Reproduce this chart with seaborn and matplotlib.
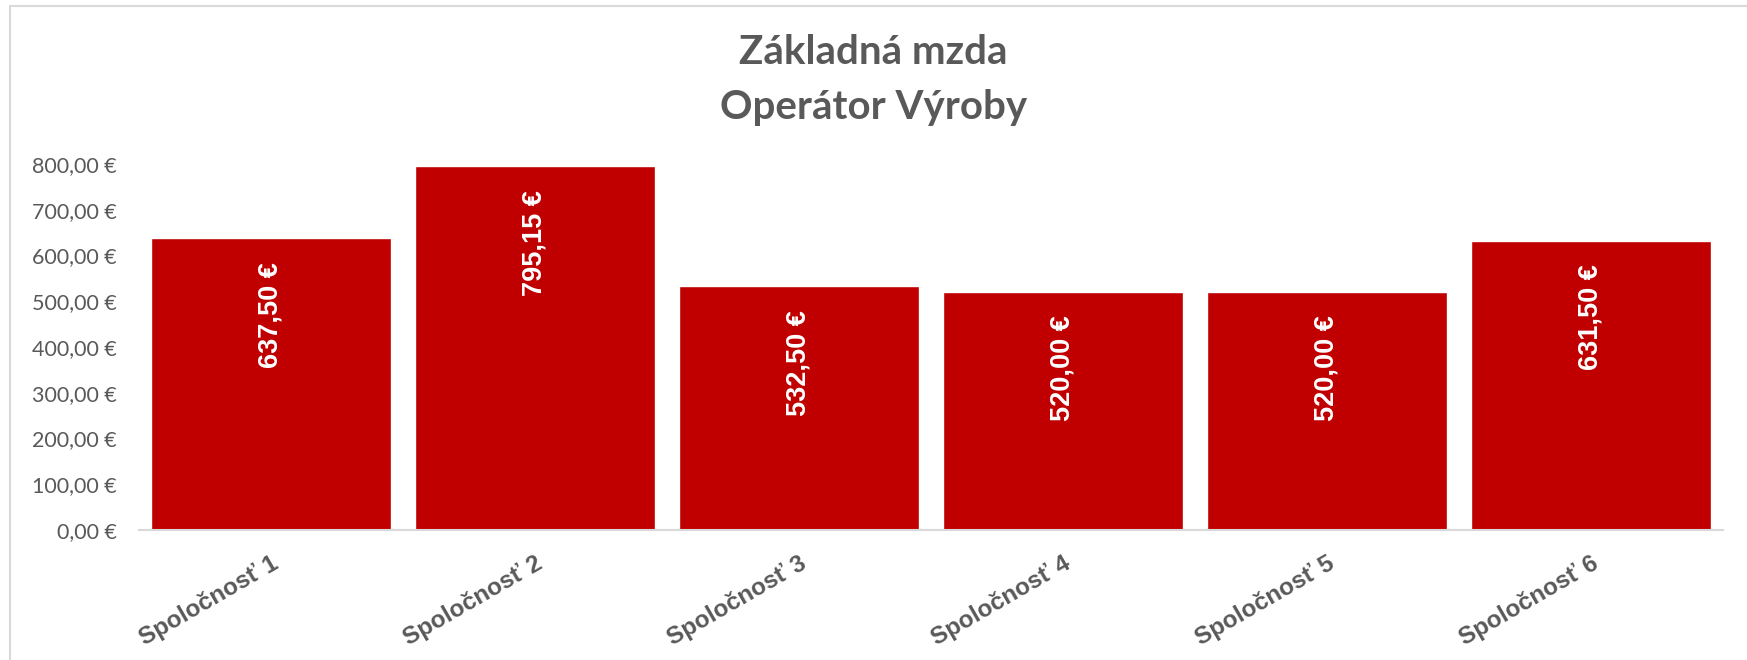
import pandas as pd
import seaborn as sns
import matplotlib.pyplot as plt
from matplotlib.lines import Line2D
from matplotlib.ticker import FuncFormatter

companies = ["Spoločnosť 1", "Spoločnosť 2", "Spoločnosť 3",
             "Spoločnosť 4", "Spoločnosť 5", "Spoločnosť 6"]
wages = [637.50, 795.15, 532.50, 520.00, 520.00, 631.50]
title_lines = ["Základná mzda", "Operátor Výroby"]

df = pd.DataFrame({"company": companies, "wage": wages})

sns.set_style("white")
plt.rcParams['font.family'] = ['Lato', 'DejaVu Sans']

grey = "#595959"
red = "#C00000"


def euro(v):
    s = f"{v:,.2f}".replace(",", " ").replace(".", ",")
    return f"{s} €"


fig = plt.figure(figsize=(17.47, 6.6), dpi=100)
ax = fig.add_axes([139 / 1747, 1 - 530 / 660, (1723 - 139) / 1747, (530 - 164) / 660])

sns.barplot(data=df, x="company", y="wage", color=red, saturation=1,
            width=0.909, ax=ax)

ax.set_ylim(0, 800)
ax.set_xlim(-0.5, len(companies) - 0.5)
ax.set_yticks(range(0, 801, 100))
ax.yaxis.set_major_formatter(FuncFormatter(lambda v, p: euro(v)))
ax.tick_params(axis='y', length=0, pad=16, labelsize=15.5, labelcolor=grey)
ax.tick_params(axis='x', length=0, pad=16)
ax.set_xticks(range(len(companies)))
ax.set_xticklabels(companies, rotation=30, ha='right', rotation_mode='anchor',
                   fontfamily='Liberation Sans', fontweight='bold', fontsize=17.5,
                   color=grey)
ax.set_xlabel("")
ax.set_ylabel("")

for s in ["top", "right", "left"]:
    ax.spines[s].set_visible(False)
ax.spines["bottom"].set_color("#D9D9D9")
ax.spines["bottom"].set_linewidth(1.5)

for i, v in enumerate(wages):
    ax.annotate(euro(v), xy=(i, v), xytext=(0, -17), textcoords='offset points',
                rotation=90, ha='center', va='top', color='white',
                fontfamily='Liberation Sans', fontweight='bold', fontsize=19.5)

fig.text(0.5, 1 - 53 / 660, title_lines[0], ha='center', va='center',
         fontsize=29, fontweight='bold', color=grey)
fig.text(0.5, 1 - 108 / 660, title_lines[1], ha='center', va='center',
         fontsize=29, fontweight='bold', color=grey)

# chart frame (only left/top edges visible)
fig.add_artist(Line2D([10 / 1747, 10 / 1747], [0, 1 - 6 / 660],
                      transform=fig.transFigure, color="#D9D9D9", lw=1.5))
fig.add_artist(Line2D([10 / 1747, 1], [1 - 6 / 660, 1 - 6 / 660],
                      transform=fig.transFigure, color="#D9D9D9", lw=1.5))

fig.set_facecolor('white')
fig.savefig("out.png", dpi=100, facecolor='white')
